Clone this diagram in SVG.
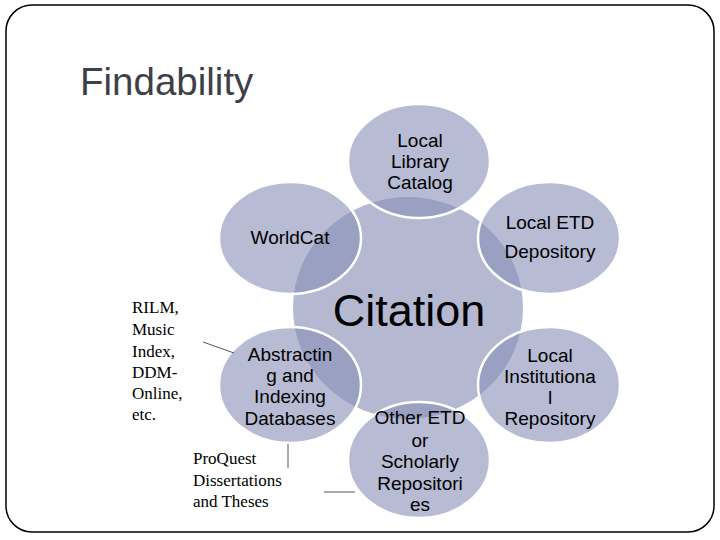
<svg xmlns="http://www.w3.org/2000/svg" width="720" height="540" viewBox="0 0 720 540">
<style>
.sat{fill:rgb(138,145,184);fill-opacity:0.62;stroke:#ffffff;stroke-width:2.5}
.lbl{font-family:"Liberation Sans",Arial,sans-serif;font-size:19px;fill:#000;text-anchor:middle}
.note{font-family:"Liberation Serif","Times New Roman",serif;font-size:17px;fill:#000}
.conn{stroke:#555;stroke-width:1;fill:none}
</style>
<rect x="6" y="5" width="708" height="527" rx="26" ry="26" fill="#fff" stroke="#000" stroke-width="1.5"/>
<text x="80" y="95" font-family="Liberation Sans,Arial,sans-serif" font-size="38.5" fill="#3f3f49">Findability</text>
<g id="citation">
<ellipse cx="408" cy="308" rx="115" ry="111" fill="rgb(180,184,208)"/>
<text x="409" y="326" font-family="Liberation Sans,Arial,sans-serif" font-size="45" text-anchor="middle" fill="#000">Citation</text>
</g>
<g id="local-library-catalog">
<ellipse class="sat" cx="419" cy="161" rx="71" ry="57"/>
<text class="lbl" x="420" y="147">Local</text>
<text class="lbl" x="420" y="168">Library</text>
<text class="lbl" x="420" y="189">Catalog</text>
</g>
<g id="local-etd-depository">
<ellipse class="sat" cx="549" cy="238" rx="71" ry="56"/>
<text class="lbl" x="550" y="229">Local ETD</text>
<text class="lbl" x="550" y="258">Depository</text>
</g>
<g id="worldcat">
<ellipse class="sat" cx="290" cy="238" rx="71" ry="56"/>
<text class="lbl" x="290" y="244">WorldCat</text>
</g>
<g id="abstracting">
<ellipse class="sat" cx="290" cy="385" rx="71" ry="58"/>
<text class="lbl" x="290" y="361">Abstractin</text>
<text class="lbl" x="290" y="382">g and</text>
<text class="lbl" x="290" y="403">Indexing</text>
<text class="lbl" x="290" y="425">Databases</text>
</g>
<g id="local-institutional-repository">
<ellipse class="sat" cx="549" cy="385" rx="71" ry="58"/>
<text class="lbl" x="550" y="362">Local</text>
<text class="lbl" x="550" y="383">Institutiona</text>
<text class="lbl" x="550" y="404">l</text>
<text class="lbl" x="550" y="425">Repository</text>
</g>
<g id="other-etd">
<ellipse class="sat" cx="419" cy="460" rx="71" ry="58"/>
<text class="lbl" x="420" y="424">Other ETD</text>
<text class="lbl" x="420" y="447">or</text>
<text class="lbl" x="420" y="468">Scholarly</text>
<text class="lbl" x="420" y="490">Repositori</text>
<text class="lbl" x="420" y="511">es</text>
</g>
<g id="connectors">
<line class="conn" x1="203" y1="342" x2="234" y2="353"/>
<line class="conn" x1="288" y1="444" x2="288" y2="468"/>
<line class="conn" x1="324" y1="492" x2="355" y2="492"/>
</g>
<g id="rilm-note">
<text class="note" x="132" y="313">RILM,</text>
<text class="note" x="132" y="335">Music</text>
<text class="note" x="132" y="357">Index,</text>
<text class="note" x="132" y="378">DDM-</text>
<text class="note" x="132" y="399">Online,</text>
<text class="note" x="132" y="420">etc.</text>
</g>
<g id="proquest-note">
<text class="note" x="193" y="464">ProQuest</text>
<text class="note" x="193" y="486">Dissertations</text>
<text class="note" x="193" y="507">and Theses</text>
</g>
</svg>
